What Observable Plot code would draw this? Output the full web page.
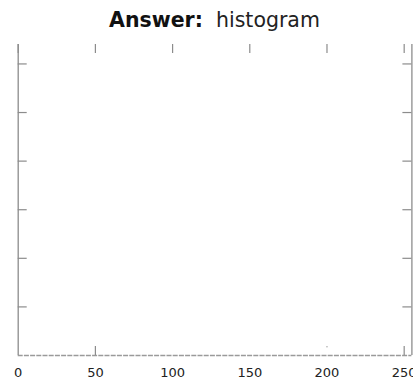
<!DOCTYPE html>
<html>
<head>
<meta charset="utf-8">
<script src="https://cdn.jsdelivr.net/npm/d3@7"></script>
<script src="https://cdn.jsdelivr.net/npm/@observablehq/plot@0.6"></script>
<style>
  html, body { margin: 0; padding: 0; background: #fff; }
  #title { height: 40px; box-sizing: border-box; padding-top: 11px; padding-left: 18px; padding-right: 2px;
           text-align: center; font-family: "DejaVu Sans", sans-serif; font-size: 20.5px; line-height: 18px; color: #111; white-space: pre; }
  #title b { font-weight: 700; }
  #title span { color: #222; }
</style>
</head>
<body>
<div id="title"><b>Answer:</b>  <span>histogram</span></div>
<div id="chart"></div>
<script>
// x axis (pixel intensity), y axis (counts, unlabeled)
const xDomain = [0, 255];
const yDomain = [0, 6.4];
const xTicks = [0, 50, 100, 150, 200, 250];
const xTickLabels = ["0", "50", "100", "150", "200", "250"];
const yTicks = [1, 2, 3, 4, 5, 6];
const bottomTicksVisible = [50, 250];
// tiny visible histogram residue
const residueX = [200];
const residueY = [0.18];

const W = 413, H = 340;
const mL = 17.7, mR = 1.6, mT = 4, mB = 25;
const innerH = H - mT - mB, innerW = W - mL - mR;
const tick = 9;
const grey = "#8c8c8c";

const chart = Plot.plot({
  width: W, height: H,
  marginLeft: mL, marginRight: mR, marginTop: mT, marginBottom: mB,
  style: { background: "#fff", fontFamily: "DejaVu Sans", fontSize: "13px", color: "#222", overflow: "visible" },
  x: { domain: xDomain, axis: null, label: null },
  y: { domain: yDomain, axis: null, label: null },
  marks: [
    Plot.ruleY([0], { stroke: "#9a9a9a", strokeWidth: 1.3, strokeDasharray: "5,1.2" }),
    Plot.ruleX([xDomain[0], xDomain[1]], { stroke: grey, strokeWidth: 1.3 }),
    Plot.tickX(xTicks, { x: d => d, stroke: grey, strokeWidth: 1.2, insetBottom: innerH - tick }),
    Plot.tickX(bottomTicksVisible, { x: d => d, stroke: grey, strokeWidth: 1.2, insetTop: innerH - tick }),
    Plot.tickY(yTicks, { y: d => d, stroke: grey, strokeWidth: 1.2, insetRight: innerW - tick }),
    Plot.tickY(yTicks, { y: d => d, stroke: grey, strokeWidth: 1.2, insetLeft: innerW - tick }),
    Plot.dot(residueX.map((x, i) => ({ x, y: residueY[i] })), { x: "x", y: "y", r: 0.8, fill: "#aaa", stroke: null }),
    Plot.axisX(xTicks, { anchor: "bottom", label: null, tickSize: 0, tickPadding: 12, tickFormat: (d, i) => xTickLabels[i], fill: "#222" })
  ]
});
document.getElementById("chart").appendChild(chart);
</script>
</body>
</html>
